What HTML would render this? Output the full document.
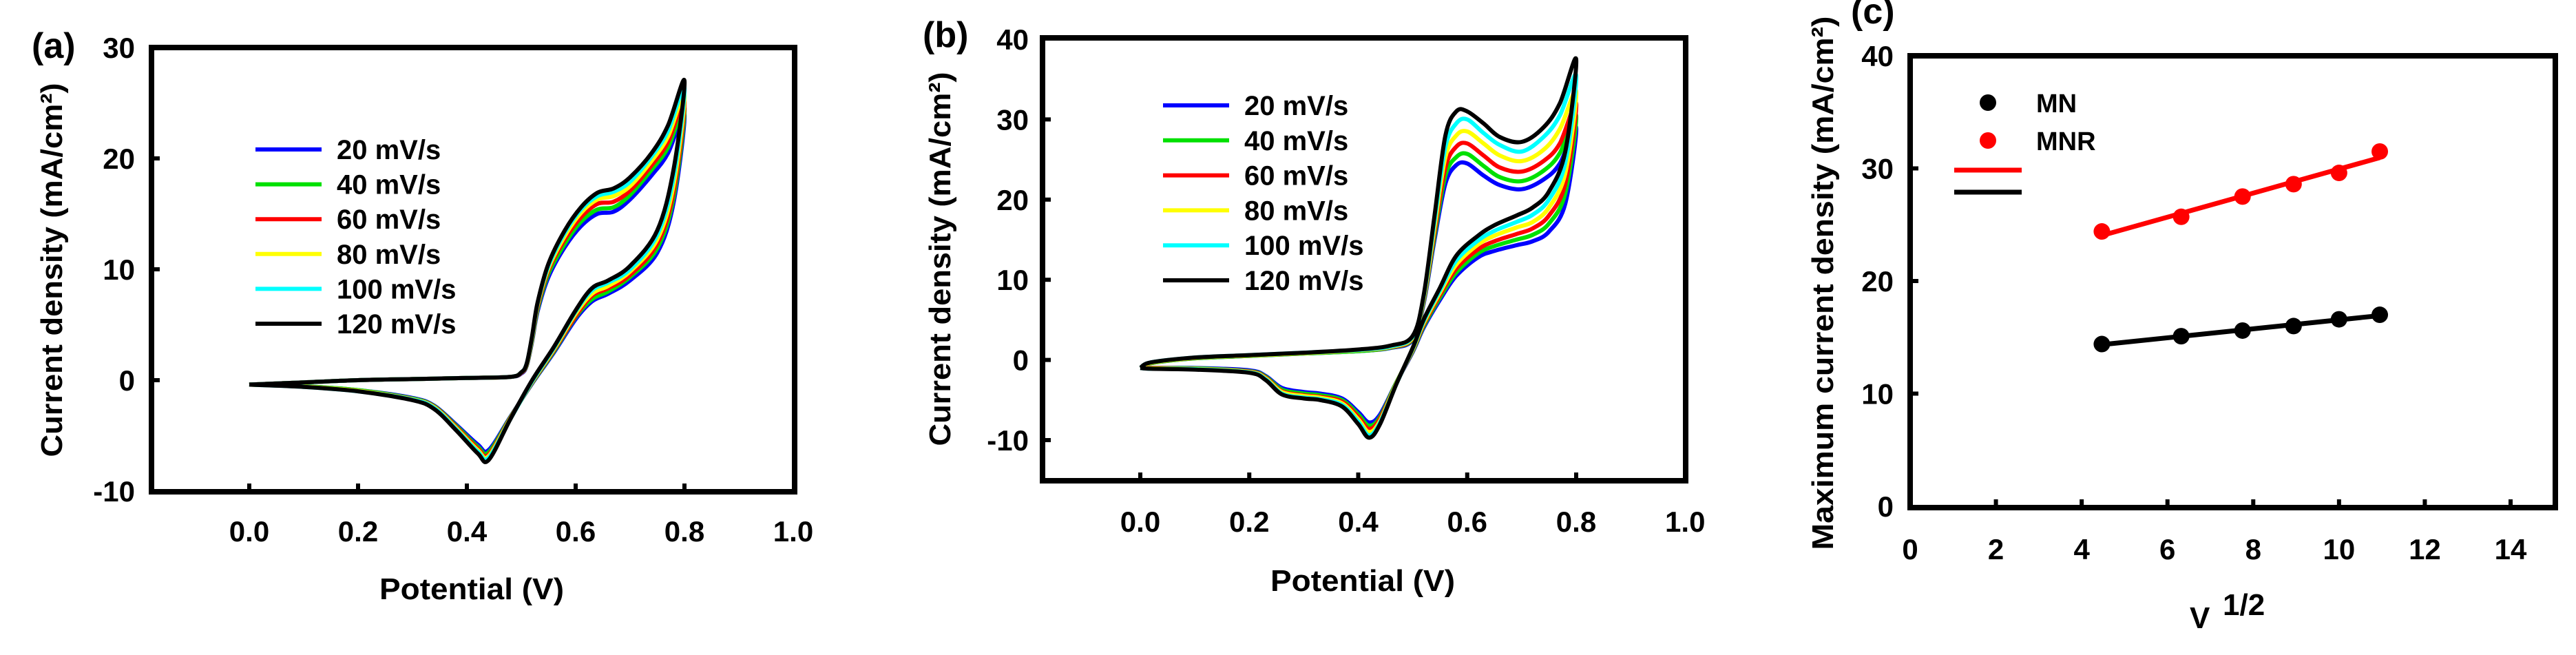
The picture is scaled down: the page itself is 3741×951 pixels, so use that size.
<!DOCTYPE html>
<html><head><meta charset="utf-8"><style>
html,body{margin:0;padding:0;background:#fff;}
svg{display:block;font-family:"Liberation Sans",sans-serif;font-weight:bold;}
</style></head><body>
<svg id="fig" width="3741" height="951" viewBox="0 0 3741 951" xmlns="http://www.w3.org/2000/svg"></svg>
<script>
// ---------- shared ----------
const rateLabels = ["20 mV/s","40 mV/s","60 mV/s","80 mV/s","100 mV/s","120 mV/s"];
const rateColors = ["#0000ff","#00e000","#ff0000","#ffff00","#00ffff","#000000"];

// ---------- panel (a) ----------
const aTicksX = [0.0,0.2,0.4,0.6,0.8,1.0];
const aTickLabelsX = ["0.0","0.2","0.4","0.6","0.8","1.0"];
const aTicksY = [-10,0,10,20,30];
const aTickLabelsY = ["-10","0","10","20","30"];
const aFwdE = [0,0.1,0.2,0.3,0.4,0.48,0.5,0.51,0.52,0.53,0.55,0.58,0.61,0.64,0.67,0.7,0.74,0.77,0.8];
const aFwd20  = [-0.4,-0.2,0,0.1,0.2,0.3,0.6,1.3,3.5,6.2,9.3,12,13.9,15,15.2,16.3,18.5,20.5,24];
const aFwd40  = [-0.4,-0.2,0,0.1,0.2,0.3,0.65,1.35,3.6,6.4,9.6,12.3,14.3,15.4,15.6,16.7,19,21,24.6];
const aFwd60  = [-0.4,-0.2,0,0.1,0.2,0.3,0.65,1.4,3.7,6.6,9.9,12.7,14.7,15.9,16.1,17.1,19.4,21.5,25.2];
const aFwd80  = [-0.4,-0.2,0,0.1,0.2,0.3,0.7,1.45,3.8,6.8,10.1,13,15.1,16.3,16.6,17.5,19.8,22,25.8];
const aFwd100 = [-0.4,-0.2,0,0.1,0.2,0.3,0.7,1.5,3.9,6.9,10.3,13.3,15.4,16.6,17,17.9,20.2,22.5,26.4];
const aFwd120 = [-0.4,-0.2,0,0.1,0.2,0.3,0.7,1.5,4,7,10.5,13.5,15.6,16.9,17.3,18.3,20.5,23,27];
const aRevE = [0.8,0.78,0.75,0.7,0.66,0.63,0.6,0.56,0.52,0.48,0.44,0.42,0.38,0.34,0.3,0.2,0.1,0];
const aRev20  = [24,16,11.5,9,7.8,7.1,5.5,2.5,-0.3,-3.3,-6.3,-5.8,-4,-2.3,-1.6,-0.9,-0.55,-0.4];
const aRev40  = [24.6,16.5,11.9,9.3,8,7.3,5.7,2.6,-0.25,-3.35,-6.5,-6,-4.1,-2.35,-1.65,-0.9,-0.55,-0.4];
const aRev60  = [25.2,17,12.3,9.5,8.3,7.6,5.8,2.7,-0.2,-3.4,-6.7,-6.15,-4.2,-2.4,-1.7,-0.95,-0.58,-0.4];
const aRev80  = [25.8,17.6,12.7,9.8,8.5,7.8,6,2.8,-0.15,-3.45,-6.85,-6.3,-4.3,-2.45,-1.72,-0.95,-0.58,-0.4];
const aRev100 = [26.4,18.3,13.1,10,8.8,8.1,6.2,2.9,-0.1,-3.5,-7,-6.45,-4.4,-2.5,-1.75,-1,-0.6,-0.4];
const aRev120 = [27,19,13.5,10.3,9,8.3,6.3,3,0,-3.5,-7.2,-6.6,-4.5,-2.6,-1.8,-1,-0.6,-0.4];

// ---------- panel (b) ----------
const bTicksX = [0.0,0.2,0.4,0.6,0.8,1.0];
const bTickLabelsX = ["0.0","0.2","0.4","0.6","0.8","1.0"];
const bTicksY = [-10,0,10,20,30,40];
const bTickLabelsY = ["-10","0","10","20","30","40"];
const bFwdE = [0,0.02,0.1,0.2,0.3,0.4,0.46,0.5,0.52,0.54,0.56,0.58,0.6,0.63,0.66,0.7,0.74,0.77,0.8];
const bFwd20  = [-1,-0.4,0.2,0.5,0.8,1.1,1.5,2.5,7,15,22,24.3,24.5,23,21.8,21.3,22.5,24.5,29];
const bFwd40  = [-1,-0.4,0.2,0.5,0.8,1.1,1.55,2.6,7.2,15.5,23,25.3,25.7,24.2,22.8,22.3,23.6,25.8,30.5];
const bFwd60  = [-1,-0.35,0.25,0.55,0.85,1.2,1.6,2.7,7.4,16,24,26.6,27,25.5,24,23.5,24.8,27,32];
const bFwd80  = [-1,-0.35,0.25,0.55,0.85,1.2,1.65,2.8,7.6,16.6,25.3,28,28.5,27,25.5,24.8,26.2,28.8,33.5];
const bFwd100 = [-1,-0.3,0.3,0.6,0.9,1.25,1.7,2.9,7.8,17.3,26.6,29.5,30,28.3,26.8,26,27.8,30.5,35.5];
const bFwd120 = [-1,-0.3,0.3,0.6,0.9,1.3,1.8,3,8,18,28,31,31,29.5,27.8,27.2,29,32,37.5];
const bRevE = [0.8,0.78,0.75,0.72,0.69,0.65,0.62,0.58,0.55,0.52,0.5,0.47,0.44,0.42,0.4,0.37,0.33,0.3,0.26,0.23,0.2,0.1,0.02,0];
const bRev20  = [29,19.5,16,14.8,14.3,13.6,12.8,10.5,7.5,4,1,-2.8,-6.8,-7.8,-6.5,-4.8,-4.2,-4,-3.5,-2,-1.3,-1,-1,-1];
const bRev40  = [30.5,20.8,17,15.6,15,14.2,13.3,10.9,7.8,4.2,1.1,-2.8,-7.1,-8.2,-6.8,-5,-4.4,-4.2,-3.7,-2.1,-1.4,-1.05,-1,-1];
const bRev60  = [32,22,18,16.4,15.7,14.8,13.8,11.4,8.1,4.4,1.2,-2.9,-7.3,-8.6,-7.1,-5.2,-4.6,-4.4,-3.9,-2.2,-1.45,-1.1,-1,-1];
const bRev80  = [33.5,23.3,19,17.2,16.5,15.5,14.4,11.9,8.4,4.6,1.3,-2.9,-7.6,-9,-7.4,-5.4,-4.7,-4.5,-4,-2.3,-1.5,-1.1,-1.05,-1];
const bRev100 = [35.5,24.6,20,18.1,17.2,16.1,14.9,12.4,8.7,4.8,1.4,-3,-7.8,-9.4,-7.7,-5.6,-4.9,-4.7,-4.2,-2.4,-1.55,-1.15,-1.1,-1];
const bRev120 = [37.5,26,21,19,18,16.8,15.5,13,9,5,1.5,-3,-8,-9.7,-8,-5.8,-5,-4.8,-4.3,-2.5,-1.6,-1.2,-1.1,-1];

// ---------- panel (c) ----------
const cTicksX = [0,2,4,6,8,10,12,14];
const cTickLabelsX = ["0","2","4","6","8","10","12","14"];
const cTicksY = [0,10,20,30,40];
const cTickLabelsY = ["0","10","20","30","40"];
const cSqrtRate = [4.47,6.32,7.75,8.94,10,10.95];
const cMN  = [14.4,15.1,15.6,16.0,16.6,17.0];
const cMNR = [24.4,25.7,27.5,28.6,29.6,31.5];

const NS = "http://www.w3.org/2000/svg";
const svg = document.getElementById("fig");
function el(tag, attrs, parent, text){
  const e = document.createElementNS(NS, tag);
  for (const k in attrs) e.setAttribute(k, attrs[k]);
  if (text !== undefined) e.textContent = text;
  (parent || svg).appendChild(e);
  return e;
}
function lin(d0,d1,p0,p1){ return v => p0 + (v-d0)*(p1-p0)/(d1-d0); }
function smoothPath(pts){
  let d = "M"+pts[0][0].toFixed(1)+","+pts[0][1].toFixed(1);
  for (let i=0;i<pts.length-1;i++){
    const p0=pts[Math.max(0,i-1)], p1=pts[i], p2=pts[i+1], p3=pts[Math.min(pts.length-1,i+2)];
    const c1=[p1[0]+(p2[0]-p0[0])/6, p1[1]+(p2[1]-p0[1])/6];
    const c2=[p2[0]-(p3[0]-p1[0])/6, p2[1]-(p3[1]-p1[1])/6];
    d += "C"+c1[0].toFixed(1)+","+c1[1].toFixed(1)+" "+c2[0].toFixed(1)+","+c2[1].toFixed(1)+" "+p2[0].toFixed(1)+","+p2[1].toFixed(1);
  }
  return d;
}

function axesFrame(g, L, T, R, B, sx, sy, tx, txl, ty, tyl, labX, labXY, labYX){
  const fr = el("rect",{x:L,y:T,width:R-L,height:B-T,fill:"none",stroke:"#000","stroke-width":8},g);
  
  
  tx.forEach((v,i)=>{
    const x = sx(v);
    if (x>L+6 && x<R-6){
      const t = el("line",{x1:x,y1:B,x2:x,y2:B-12,stroke:"#000","stroke-width":6},g);
      
      
    }
    const tl = el("text",{x:x,y:labXY,"text-anchor":"middle","font-size":42},g,txl[i]);
    
    
  });
  ty.forEach((v,i)=>{
    const y = sy(v);
    if (y>T+6 && y<B-6){
      const t = el("line",{x1:L,y1:y,x2:L+12,y2:y,stroke:"#000","stroke-width":6},g);
      
      
    }
    const tl = el("text",{x:labYX,y:y+15,"text-anchor":"end","font-size":42},g,tyl[i]);
    
    
  });
}

function cvPanel(name, o){
  const g = el("g",{});
  
  
  axesFrame(g,o.L,o.T,o.R,o.B,o.sx,o.sy,o.tx,o.txl,o.ty,o.tyl,null,o.labXY,o.labYX);
  o.series.forEach((s,i)=>{
    const pts = [];
    o.fwdE.forEach((e,k)=>pts.push([o.sx(e),o.sy(s[0][k])]));
    o.revE.forEach((e,k)=>{ if(k>0) pts.push([o.sx(e),o.sy(s[1][k])]); });
    const p = el("path",{d:smoothPath(pts),fill:"none",stroke:rateColors[i],"stroke-width":6,"stroke-linejoin":"round"},g);
    
    
  });
  rateLabels.forEach((lab,i)=>{
    const y = o.legY + i*o.legDY;
    const ln = el("line",{x1:o.legX,y1:y,x2:o.legX+96,y2:y,stroke:rateColors[i],"stroke-width":6},g);
    
    
    const t = el("text",{x:o.legX+118,y:y+14,"font-size":40},g,lab);
    
    
  });
  const xt = el("text",{x:o.xtX,y:o.xtY,"text-anchor":"middle","font-size":44,textLength:268,lengthAdjust:"spacingAndGlyphs"},g,"Potential (V)");
  
  
  const yt = el("text",{x:0,y:0,"text-anchor":"middle","font-size":44,textLength:543,lengthAdjust:"spacingAndGlyphs",transform:"translate("+o.ytX+","+o.ytY+") rotate(-90)"},g);
  
  
  yt.textContent = "Current density (mA/cm\u00B2)";
  const pl = el("text",{x:o.plX,y:o.plY,"font-size":52},g,o.plT);
  
  
}

// panel a
cvPanel("panel-a",{
  L:220,T:69,R:1154,B:714,
  sx:lin(0,0.8,362,994), sy:lin(30,-10,69,713),
  tx:aTicksX,txl:aTickLabelsX,ty:aTicksY,tyl:aTickLabelsY,labXY:786,labYX:196,
  fwdE:aFwdE,revE:aRevE,
  series:[[aFwd20,aRev20],[aFwd40,aRev40],[aFwd60,aRev60],[aFwd80,aRev80],[aFwd100,aRev100],[aFwd120,aRev120]],
  legX:371,legY:217,legDY:50.6,xtX:685,xtY:870,ytX:90,ytY:392,plX:46,plY:84,plT:"(a)"
});
// panel b
cvPanel("panel-b",{
  L:1514,T:55,R:2448,B:698,
  sx:lin(0,0.8,1656,2289), sy:lin(40,-10,57,639),
  tx:bTicksX,txl:bTickLabelsX,ty:bTicksY,tyl:bTickLabelsY,labXY:772,labYX:1494,
  fwdE:bFwdE,revE:bRevE,
  series:[[bFwd20,bRev20],[bFwd40,bRev40],[bFwd60,bRev60],[bFwd80,bRev80],[bFwd100,bRev100],[bFwd120,bRev120]],
  legX:1689,legY:153,legDY:50.8,xtX:1979,xtY:858,ytX:1380,ytY:376,plX:1340,plY:68,plT:"(b)"
});

// panel c
(function(){
  const g = el("g",{});
  
  
  const L=2774,T=81,R=3711,B=737;
  const sx = lin(0,14,2774,3646), sy = lin(40,0,81,735);
  axesFrame(g,L,T,R,B,sx,sy,cTicksX,cTickLabelsX,cTicksY,cTickLabelsY,null,812,2750);
  function fit(xs,ys){
    const n=xs.length, mx=xs.reduce((a,b)=>a+b)/n, my=ys.reduce((a,b)=>a+b)/n;
    let sxy=0,sxx=0; xs.forEach((x,i)=>{sxy+=(x-mx)*(ys[i]-my); sxx+=(x-mx)*(x-mx);});
    const m=sxy/sxx; return [m, my-m*mx];
  }
  [[cMNR,"#ff0000","mnr"],[cMN,"#000000","mn"]].forEach(([ys,col,nm])=>{
    const [m,b] = fit(cSqrtRate,ys);
    const x0=cSqrtRate[0], x1=cSqrtRate[cSqrtRate.length-1];
    const ln = el("line",{x1:sx(x0),y1:sy(m*x0+b),x2:sx(x1),y2:sy(m*x1+b),stroke:col,"stroke-width":7},g);
    
    
    ys.forEach((v,i)=>{
      const c = el("circle",{cx:sx(cSqrtRate[i]),cy:sy(v),r:12,fill:col},g);
      
      
    });
  });
  const legs = [["MN","#000",149],["MNR","#ff0000",204]];
  legs.forEach(([t,c,y])=>{
    const d = el("circle",{cx:2887,cy:y,r:12,fill:c},g);
    
    
    const tx = el("text",{x:2957,y:y+14,"font-size":38},g,t);
    
    
  });
  const l1 = el("line",{x1:2838,y1:247,x2:2936,y2:247,stroke:"#ff0000","stroke-width":7},g);
  
  
  const l2 = el("line",{x1:2838,y1:279,x2:2936,y2:279,stroke:"#000","stroke-width":7},g);
  
  
  const xt = el("text",{x:3180,y:912,"font-size":44},g,"V");
  
  
  const xs = el("text",{x:3228,y:893,"font-size":44},g,"1/2");
  
  
  const yt = el("text",{x:0,y:0,"text-anchor":"middle","font-size":44,textLength:775,lengthAdjust:"spacingAndGlyphs",transform:"translate(2662,411) rotate(-90)"},g);
  
  
  yt.textContent = "Maximum current density (mA/cm\u00B2)";
  const pl = el("text",{x:2688,y:34,"font-size":52},g,"(c)");
  
  
})();
</script>
</body></html>
